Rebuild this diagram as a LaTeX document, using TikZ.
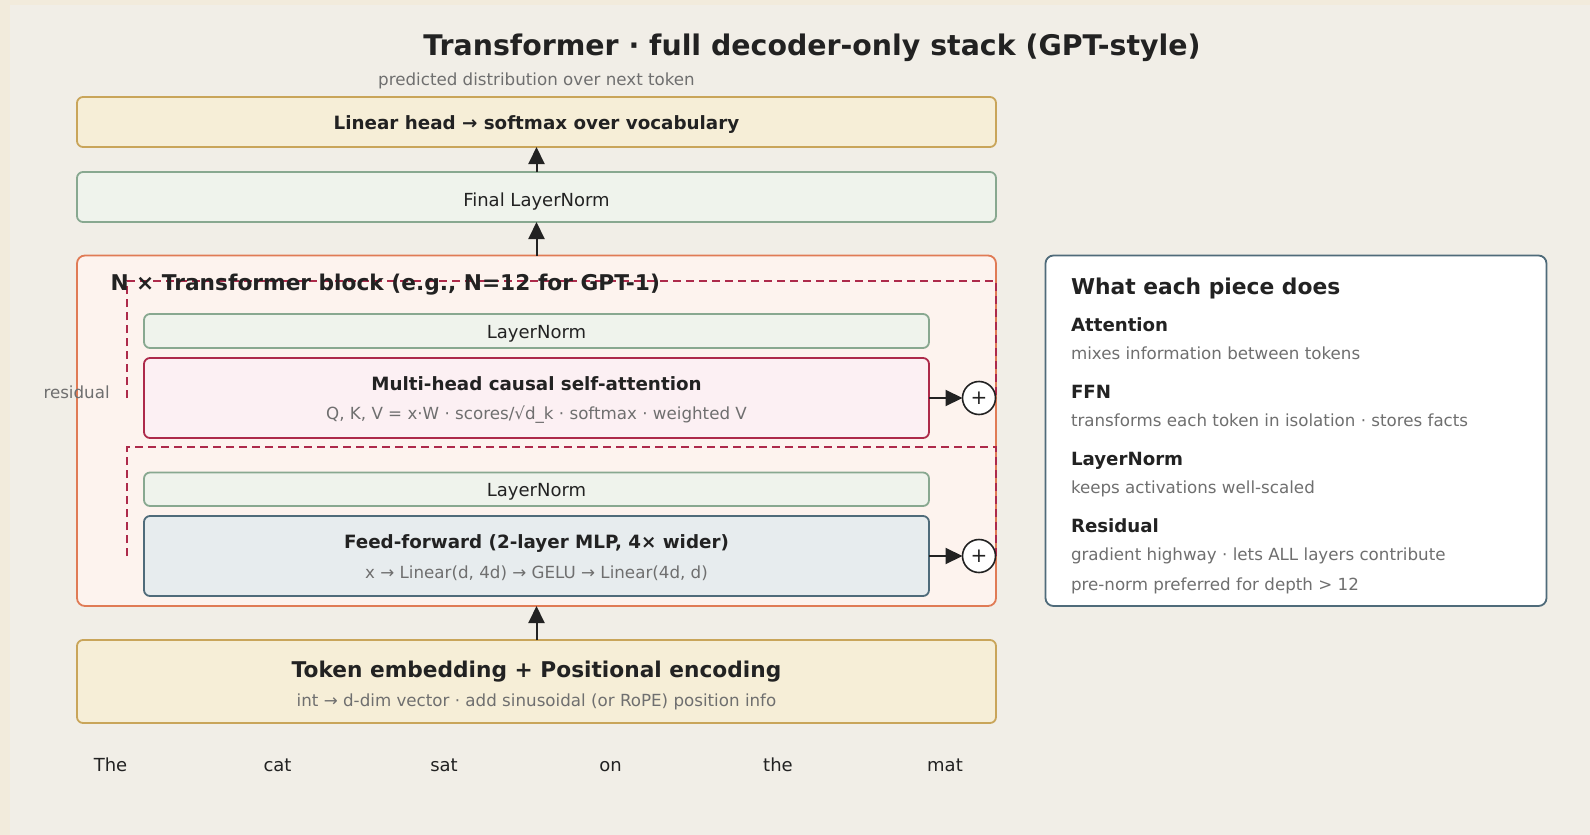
\documentclass[tikz,border=0pt]{standalone}
\usepackage{fontspec}
\setmainfont{DejaVu Sans}
\usetikzlibrary{arrows.meta}
\definecolor{outerbg}{HTML}{F2EBDC}
\definecolor{innerbg}{HTML}{F1EEE7}
\definecolor{yfill}{HTML}{F6EED7}
\definecolor{ybord}{HTML}{C9A55A}
\definecolor{gfill}{HTML}{EFF3EC}
\definecolor{gbord}{HTML}{88A890}
\definecolor{bfill}{HTML}{FDF3EE}
\definecolor{bbord}{HTML}{E07B55}
\definecolor{afill}{HTML}{FCF0F3}
\definecolor{crim}{HTML}{AD2A4A}
\definecolor{ffill}{HTML}{E7ECEE}
\definecolor{slate}{HTML}{4F6B7A}
\definecolor{ink}{HTML}{222222}
\definecolor{muted}{HTML}{6F6F6F}
\newcommand{\myfs}[1]{\fontsize{#1}{#1}\selectfont}
\begin{document}
\begin{tikzpicture}[x=1pt,y=-1pt,
  every node/.style={inner sep=0pt, outer sep=0pt},
  box/.style={draw, rounded corners=6pt, line width=1.8pt},
  ybox/.style={box, draw=ybord, fill=yfill},
  gbox/.style={box, draw=gbord, fill=gfill},
  abox/.style={box, draw=crim, fill=afill},
  fbox/.style={box, draw=slate, fill=ffill},
  ttl/.style={anchor=base, text=ink, font=\myfs{18.3}\bfseries},
  reg/.style={anchor=base, text=ink, font=\myfs{18}},
  sub/.style={anchor=base, text=muted, font=\myfs{16.7}},
  arr/.style={draw=ink, line width=2pt, -{Triangle[length=17pt,width=16pt]}},
  resid/.style={draw=crim, line width=2pt, dash pattern=on 8pt off 5pt},
  plus/.style={circle, draw=ink, fill=white, line width=1.6pt, minimum size=33pt, font=\myfs{20}, text=ink},
]
\useasboundingbox (0,0) rectangle (1590,835);
\fill[outerbg] (0,0) rectangle (1590,835);
\fill[innerbg] (10,5) rectangle (1590,835);

% title
\node[anchor=base, text=ink, font=\myfs{28.4}\bfseries] (title) at (812,55.6) {Transformer · full decoder-only stack (GPT-style)};
\node[sub] (pred) at (536.5,85) {predicted distribution over next token};

% head
\node[ybox, minimum width=919pt, minimum height=50pt] (head) at (536.5,122) {};
\node[ttl] (headt) at (536.5,129) {Linear head → softmax over vocabulary};

% final LN
\node[gbox, minimum width=919pt, minimum height=50pt] (fln) at (536.5,197) {};
\node[reg] (flnt) at (536.5,206) {Final LayerNorm};

% block
\node[box, draw=bbord, fill=bfill, rounded corners=8pt, minimum width=919pt, minimum height=350.5pt] (block) at (536.5,430.75) {};

% residual paths
\coordinate (r1a) at (127,398);
\coordinate (r1b) at (127,281);
\coordinate (r1c) at (996,281);
\coordinate (r1d) at (996,398);
\coordinate (r2a) at (127,556);
\coordinate (r2b) at (127,447);
\coordinate (r2c) at (996,447);
\coordinate (r2d) at (996,556);
\draw[resid] (r1a) -- (r1b) -- (r1c) -- (r1d);
\draw[resid] (r2a) -- (r2b) -- (r2c) -- (r2d);

\node[anchor=base west, text=ink, font=\myfs{21.7}\bfseries] (blockt) at (110.5,290) {N × Transformer block (e.g., N=12 for GPT-1)};
\node[sub] (resl) at (76.6,398.4) {residual};

% attention sublayer
\node[gbox, minimum width=785pt, minimum height=34pt] (ln1) at (536.5,331) {};
\node[reg] (ln1t) at (536.5,338) {LayerNorm};
\node[abox, minimum width=785pt, minimum height=80pt] (attn) at (536.5,398) {};
\node[ttl] (attnt) at (536.5,390) {Multi-head causal self-attention};
\node[sub] (attns) at (536.5,419.7) {Q, K, V = x·W · scores/√d\_k · softmax · weighted V};
\node[plus] (p1) at (979,398) {+};
\draw[arr] (attn.east) -- (p1.west);

% ffn sublayer
\node[gbox, minimum width=785pt, minimum height=33.5pt] (ln2) at (536.5,489.25) {};
\node[reg] (ln2t) at (536.5,496) {LayerNorm};
\node[fbox, minimum width=785pt, minimum height=80pt] (ffn) at (536.5,556) {};
\node[ttl] (ffnt) at (536.5,548) {Feed-forward (2-layer MLP, 4× wider)};
\node[sub] (ffns) at (536.5,578) {x → Linear(d, 4d) → GELU → Linear(4d, d)};
\node[plus] (p2) at (979,556) {+};
\draw[arr] (ffn.east) -- (p2.west);

% embedding
\node[ybox, minimum width=919pt, minimum height=83pt] (emb) at (536.5,681.5) {};
\node[anchor=base, text=ink, font=\myfs{21.7}\bfseries] (embt) at (536.5,677.3) {Token embedding + Positional encoding};
\node[sub] (embs) at (536.5,706.7) {int → d-dim vector · add sinusoidal (or RoPE) position info};

% vertical arrows
\draw[arr] (emb.north) -- (block.south);
\draw[arr] (block.north) -- (fln.south);
\draw[arr] (fln.north) -- (head.south);

% tokens
\node[reg] (t1) at (110.5,771) {The};
\node[reg] (t2) at (277.5,771) {cat};
\node[reg] (t3) at (444,771) {sat};
\node[reg] (t4) at (610.5,771) {on};
\node[reg] (t5) at (778,771) {the};
\node[reg] (t6) at (945,771) {mat};

% legend panel
\node[box, draw=slate, fill=white, rounded corners=8pt, minimum width=501pt, minimum height=350.5pt] (panel) at (1296,430.75) {};
\node[anchor=base west, text=ink, font=\myfs{21.8}\bfseries] (pt) at (1071,294) {What each piece does};
\node[anchor=base west, text=ink, font=\myfs{18.2}\bfseries] (l1) at (1071,331) {Attention};
\node[sub, anchor=base west] (l1s) at (1071,359) {mixes information between tokens};
\node[anchor=base west, text=ink, font=\myfs{18.2}\bfseries] (l2) at (1071,398) {FFN};
\node[sub, anchor=base west] (l2s) at (1071,426) {transforms each token in isolation · stores facts};
\node[anchor=base west, text=ink, font=\myfs{18.2}\bfseries] (l3) at (1071,465) {LayerNorm};
\node[sub, anchor=base west] (l3s) at (1071,493) {keeps activations well-scaled};
\node[anchor=base west, text=ink, font=\myfs{18.2}\bfseries] (l4) at (1071,532) {Residual};
\node[sub, anchor=base west] (l4s) at (1071,560) {gradient highway · lets ALL layers contribute};
\node[sub, anchor=base west] (l4t) at (1071,590) {pre-norm preferred for depth > 12};
\end{tikzpicture}
\end{document}
